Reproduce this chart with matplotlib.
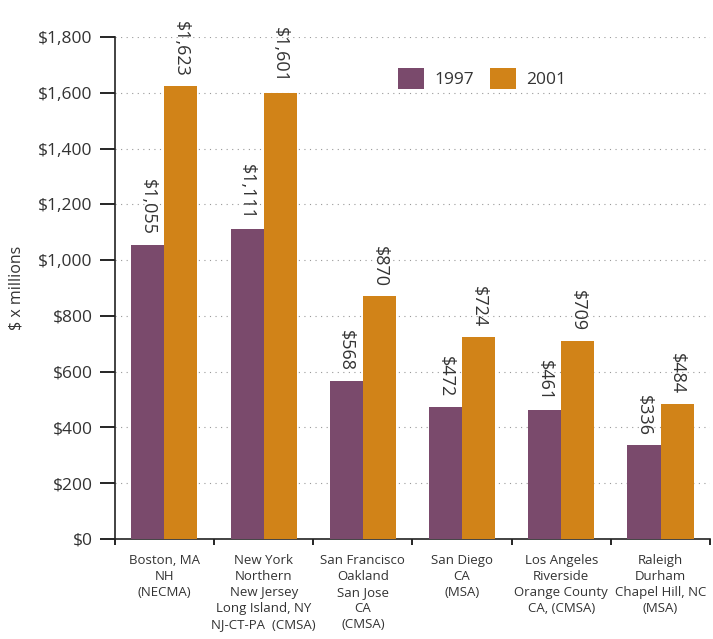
import numpy as np
import matplotlib.pyplot as plt

plt.rcParams['font.family'] = ['Open Sans', 'DejaVu Sans']

cities = ['Boston, MA\nNH\n(NECMA)',
          'New York\nNorthern\nNew Jersey\nLong Island, NY\nNJ-CT-PA  (CMSA)',
          'San Francisco\nOakland\nSan Jose\nCA\n(CMSA)',
          'San Diego\nCA\n(MSA)',
          'Los Angeles\nRiverside\nOrange County\nCA, (CMSA)',
          'Raleigh\nDurham\nChapel Hill, NC\n(MSA)']
v1997 = [1055, 1111, 568, 472, 461, 336]
v2001 = [1623, 1601, 870, 724, 709, 484]

purple = '#7A4A6C'
orange = '#D18318'
txt = '#333333'

fig = plt.figure(figsize=(7.13, 6.39), dpi=100)
ax = fig.add_axes([0.161, 0.1565, 0.835, 0.7855])

x = np.arange(len(cities))
w = 1/3.
b1 = ax.bar(x - w/2, v1997, w, color=purple, label='1997', zorder=3)
b2 = ax.bar(x + w/2, v2001, w, color=orange, label='2001', zorder=3)

for bars, vals in ((b1, v1997), (b2, v2001)):
    for r, v in zip(bars, vals):
        ax.annotate('${:,}'.format(v), (r.get_x() + r.get_width()/2, v),
                    xytext=(0, 7), textcoords='offset points',
                    rotation=270, ha='center', va='bottom',
                    fontsize=13, color=txt)

ax.set_xlim(-0.5, 5.5)
ax.set_ylim(0, 1800)
ax.set_yticks(np.arange(0, 1801, 200))
ax.set_yticklabels(['${:,}'.format(t) for t in range(0, 1801, 200)])
ax.yaxis.grid(True, ls=(0, (1, 4)), color='#999999', lw=0.8, zorder=0)

ax.set_xticks(np.arange(-0.5, 6, 1))
ax.set_xticklabels([])
ax.set_xticks(x, minor=True)
ax.set_xticklabels(cities, minor=True, fontsize=9.5, color=txt, linespacing=1.3, va='top')
ax.tick_params(axis='x', which='minor', length=0, pad=11)
ax.tick_params(axis='x', which='major', length=4, width=1.2, direction='out')
ax.tick_params(axis='y', length=11, width=1.2, pad=5, labelsize=12.5, labelcolor=txt)

for s in ('top', 'right'):
    ax.spines[s].set_visible(False)
for s in ('left', 'bottom'):
    ax.spines[s].set_linewidth(1.2)
    ax.spines[s].set_color('#222222')

ax.set_ylabel('$ x millions', fontsize=11.5, color=txt, labelpad=10)

ax.legend(loc='upper left', bbox_to_anchor=(0.45, 0.97), ncol=2, frameon=False,
          fontsize=12.5, handlelength=1.5, handleheight=1.5, columnspacing=0.9,
          handletextpad=0.6, labelcolor=txt)

plt.savefig('out.png', dpi=100)
